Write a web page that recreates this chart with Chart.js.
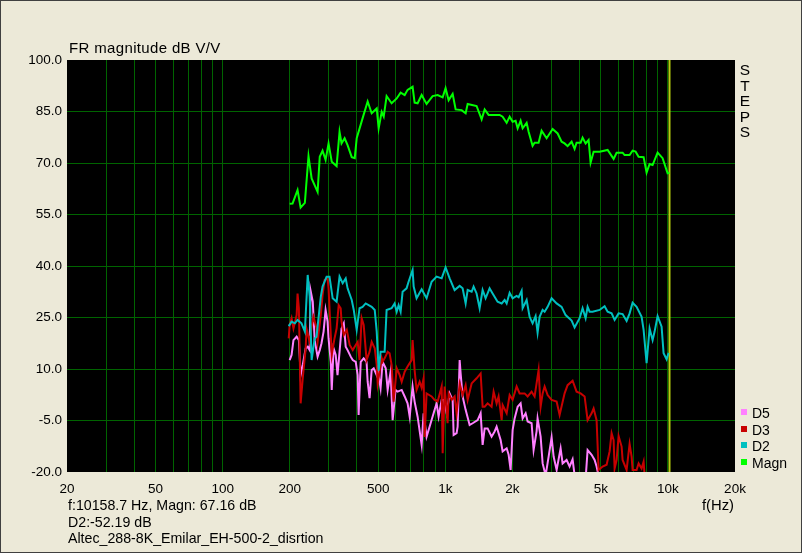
<!DOCTYPE html>
<html>
<head>
<meta charset="utf-8">
<title>FR magnitude</title>
<script src="https://cdn.jsdelivr.net/npm/chart.js@4.4.1/dist/chart.umd.min.js"></script>
<style>
html, body { margin: 0; padding: 0; }
body { background: #ece9d8; font-family: "Liberation Sans", Arial, sans-serif; font-size: 14px; color: #000; }
#stage { position: relative; width: 802px; height: 553px; overflow: hidden; }
#frame { position: absolute; left: 0; top: 0; width: 802px; height: 553px; box-sizing: border-box; border: 1px solid #404040; pointer-events: none; }
canvas { position: absolute; left: 0; top: 0; }
.txt { position: absolute; white-space: nowrap; }
#title { left: 69px; top: 40px; font-size: 15px; line-height: 15px; letter-spacing: 0.35px; }
#info { left: 68px; top: 497px; font-size: 14.2px; line-height: 16.7px; }
#unit { right: 68px; top: 497px; font-size: 14.8px; line-height: 16.7px; }
#steps { left: 738px; top: 62px; width: 14px; text-align: center; font-size: 15.5px; line-height: 15.5px; }
#legend { left: 741px; top: 405px; font-size: 14px; line-height: 16.5px; }
#legend .sw { display: inline-block; width: 6px; height: 6px; margin-right: 5px; vertical-align: 3px; }
</style>
</head>
<body>
<div id="stage">
  <canvas id="fr" width="802" height="553"></canvas>
  <div class="txt" id="title">FR magnitude dB V/V</div>
  <div class="txt" id="info">f:10158.7 Hz, Magn: 67.16 dB<br>D2:-52.19 dB<br>Altec_288-8K_Emilar_EH-500-2_disrtion</div>
  <div class="txt" id="unit">f(Hz)</div>
  <div class="txt" id="steps">S<br>T<br>E<br>P<br>S</div>
  <div class="txt" id="legend"></div>
  <div id="frame"></div>
</div>
<script>
// axis ticks
const gridFreqs = [20,30,40,50,60,70,80,90,100,200,300,400,500,600,700,800,900,1000,2000,3000,4000,5000,6000,7000,8000,9000,10000,20000];
const xTickValues = [20,50,100,200,500,1000,2000,5000,10000,20000];
const xTickLabels = ['20','50','100','200','500','1k','2k','5k','10k','20k'];
const cursorFreq = 10158.7;

// Magn (fundamental)
const magnFreq = [200,206,217,224,234,243,251,267,273,281,290,299,309,325,335,342,353,364,380,392,400,425,448,467,492,502,518,529,545,574,605,630,657,677,713,728,751,783,824,877,924,973,1003,1035,1079,1113,1184,1234,1260,1382,1456,1502,1565,1754,1809,1886,1945,2006,2069,2113,2179,2225,2319,2367,2466,2518,2624,2707,2851,3034,3195,3329,3434,3542,3692,3808,3887,4052,4136,4267,4401,4493,4635,4932,5357,5700,5879,6256,6386,6725,6937,7155,7381,7773,8017,8270,8531,8983,9460,9962,10159];
const magnDb = [58.1,58.2,62.1,57.0,58.4,72.0,65.5,61.6,71.8,73.6,70.9,75.7,70.4,69.1,79.1,75.7,77.2,75.2,71.7,71.4,77.2,83.0,87.9,84.5,85.9,80.1,84.9,83.5,89.5,87.4,88.8,90.5,89.8,91.3,92.2,87.6,87.4,89.8,87.2,89.5,89.8,89.1,91.8,88.3,90.1,85.6,85.4,84.5,87.2,86.6,82.7,85.6,84.0,84.0,83.5,81.7,83.5,82.0,82.3,80.1,82.3,80.1,81.7,79.1,75.0,75.9,75.9,79.4,77.2,79.9,78.6,76.2,75.7,74.9,76.2,74.1,75.9,75.9,77.4,75.7,76.7,70.1,73.3,73.3,73.8,71.2,73.0,73.0,72.3,72.3,73.6,73.3,71.8,71.7,67.2,69.7,69.4,73.0,71.4,67.0,67.16];

// D2
const d2Freq = [198,204,211,217,226,234,241,246,251,259,264,276,281,293,302,312,325,335,346,357,364,380,388,400,412,425,439,467,482,492,502,512,534,545,574,592,605,617,630,643,670,684,713,721,743,783,824,868,914,963,1003,1046,1101,1160,1196,1234,1260,1313,1340,1382,1426,1471,1517,1581,1631,1717,1791,1847,1886,1945,2006,2091,2135,2202,2225,2319,2391,2466,2544,2597,2652,2736,2793,2881,3002,3162,3329,3470,3692,3808,4010,4136,4267,4356,4447,4587,4932,5193,5357,5583,5759,6002,6256,6520,6725,6937,7229,7614,7773,8017,8270,8531,8708,8983,9363,9558,9859,10065];
const d2Db = [22.5,23.8,23.3,24.3,23.3,20.9,37.4,31.1,12.6,18.9,19.4,31.1,34.0,36.9,36.9,30.6,29.6,36.9,35.0,36.4,33.5,30.1,27.2,21.4,27.7,28.1,29.1,28.1,27.2,20.9,9.5,15.0,15.0,27.2,27.7,29.1,26.7,28.6,26.7,32.5,33.5,35.4,38.8,34.0,30.6,33.2,30.6,35.4,36.9,36.4,39.6,36.4,33.0,34.2,33.5,29.1,33.0,32.5,34.0,32.0,27.7,33.0,30.6,33.5,32.0,29.6,29.1,30.1,29.1,32.2,30.6,31.3,30.9,32.8,27.7,30.1,25.2,23.3,25.4,20.6,25.2,27.2,26.7,28.1,30.6,29.1,28.1,25.7,24.1,22.1,24.8,27.7,24.8,28.1,26.7,26.7,27.2,28.3,26.7,26.2,24.3,26.2,26.0,24.0,26.2,29.3,28.1,25.2,21.4,11.7,21.8,18.4,20.9,25.4,22.3,14.6,12.8,14.7];

// D3
const d3Freq = [198,200,204,208,215,217,220,224,229,236,238,246,251,256,264,267,276,281,287,296,299,306,309,318,325,332,339,342,350,361,372,384,396,404,412,421,430,443,457,467,482,492,497,518,523,534,551,562,574,586,605,624,637,657,677,706,713,728,743,767,783,799,808,824,868,895,924,963,973,993,1024,1035,1068,1101,1124,1160,1196,1234,1260,1313,1382,1441,1471,1502,1549,1614,1648,1700,1735,1791,1809,1886,1945,2006,2091,2157,2271,2343,2441,2518,2570,2624,2680,2736,2793,2881,3002,3162,3261,3434,3542,3730,3887,4052,4223,4356,4540,4635,4780,4880,5087,5302,5469,5583,5700,5759,5879,6002,6192,6256,6520,6725,6865,6937,7229,7381,7614,7773,7853];
const d3Db = [18.9,22.8,24.8,21.8,25.7,32.0,27.7,0.0,7.3,16.0,21.8,17.9,22.3,25.2,21.8,17.9,25.7,31.5,35.9,36.4,33.5,19.9,14.1,18.9,21.8,28.6,27.7,23.8,19.9,21.4,17.0,15.5,17.0,17.9,12.6,24.8,22.8,12.6,15.0,17.9,16.0,11.2,5.8,13.1,12.1,13.1,15.0,14.6,11.2,0.5,10.2,8.2,6.3,9.2,10.7,12.6,18.4,9.7,3.9,6.3,4.5,7.3,-9.8,2.9,2.0,1.0,0.5,4.9,-14.5,4.9,-5.8,2.9,1.0,2.0,-3.0,5.8,2.4,5.3,1.0,5.8,7.3,8.7,-1.0,-1.0,0.0,-1.0,3.4,0.0,2.0,-4.9,-0.5,-2.9,2.4,1.0,4.9,2.9,2.9,2.0,3.4,2.0,5.8,9.7,-1.0,2.9,4.9,2.4,1.0,0.5,-3.4,2.9,5.3,6.6,3.4,2.9,2.0,-4.9,-2.9,-1.5,-4.9,-19.4,-18.4,-17.9,-14.0,-8.7,-10.7,-19.0,-16.5,-9.5,-12.6,-16.5,-19.4,-11.8,-15.5,-19.4,-19.4,-17.5,-19.0,-17.0,-21.0];

// D5
const d5Freq = [200,204,208,215,220,224,229,236,241,246,248,254,259,267,273,278,284,290,296,299,306,309,315,322,328,335,342,350,357,364,376,384,396,404,408,417,430,443,448,457,467,477,492,497,512,523,540,551,568,580,598,611,637,657,677,692,713,728,751,783,799,824,850,886,914,933,963,983,1014,1046,1079,1090,1124,1136,1160,1172,1196,1234,1286,1327,1397,1441,1471,1502,1549,1614,1665,1700,1772,1809,1886,1925,1965,2006,2048,2113,2179,2225,2295,2343,2441,2492,2570,2597,2680,2736,2822,2911,3002,3065,3162,3295,3364,3505,3616,3730,3808,4010,4267,4356,4540,4683,4780,4880];
const d5Db = [12.6,14.1,18.4,19.4,18.4,8.2,11.2,16.0,16.5,15.5,33.0,29.6,18.4,13.6,15.5,17.5,20.9,27.2,23.8,18.9,12.1,3.9,16.0,14.1,8.2,15.0,21.8,23.3,16.5,15.5,13.6,12.6,12.1,8.2,-3.4,12.1,13.1,12.1,6.3,1.5,9.7,10.2,8.2,9.7,4.4,12.1,10.2,3.9,9.2,-4.9,3.9,3.4,3.9,2.0,0.0,-3.9,4.9,0.5,-3.9,-12.1,-2.9,-9.7,-6.8,-2.9,0.0,-3.9,1.0,1.0,-2.9,2.9,1.0,-9.2,-8.7,-6.8,12.6,8.7,2.0,-1.9,-6.3,-5.8,-4.9,-2.9,-12.1,-7.3,-7.3,-9.7,-8.2,-6.8,-10.7,-14.0,-13.1,-15.0,-19.4,-7.8,-4.4,-1.0,0.0,-4.4,-2.9,-5.3,-5.8,-13.6,-8.2,-4.4,-9.7,-17.5,-21.0,-15.5,-9.9,-15.5,-19.4,-13.1,-17.5,-16.5,-18.4,-16.3,-21.0,-24.0,-22.0,-13.6,-15.0,-16.5,-18.4,-21.0];

const series = [
    { name: 'D5', freq: d5Freq, db: d5Db, color: '#ff80ff' },
    { name: 'D3', freq: d3Freq, db: d3Db, color: '#c80000' },
    { name: 'D2', freq: d2Freq, db: d2Db, color: '#00c0c0' },
    { name: 'Magn', freq: magnFreq, db: magnDb, color: '#00ff00' }
];

const GRID = '#006400';
const tickFont = { family: '"Liberation Sans", Arial, sans-serif', size: 13.5 };

// black plotting field
const plotBg = {
    id: 'plotBg',
    beforeDraw(c) {
        const a = c.chartArea, ctx = c.ctx;
        ctx.save();
        ctx.fillStyle = '#000';
        ctx.fillRect(a.left, a.top, a.right - a.left, a.bottom - a.top);
        ctx.restore();
    }
};

// draw order: Magn first, D5 last (on top)
const datasets = series.slice().reverse().map(s => ({
    label: s.name,
    data: s.freq.map((f, i) => ({ x: f, y: s.db[i] })),
    borderColor: s.color,
    borderWidth: 2,
    pointRadius: 0,
    tension: 0,
    fill: false
}));
datasets.push({
    label: 'cursor',
    data: [{ x: cursorFreq, y: -20 }, { x: cursorFreq, y: 100 }],
    borderColor: '#b8d010',
    borderWidth: 2,
    pointRadius: 0
});

new Chart(document.getElementById('fr'), {
    type: 'line',
    data: { datasets },
    plugins: [plotBg],
    options: {
        responsive: false,
        animation: false,
        devicePixelRatio: 1,
        layout: { padding: { left: 0, top: 60, right: 67, bottom: 0 } },
        plugins: { legend: { display: false }, tooltip: { enabled: false } },
        scales: {
            x: {
                type: 'logarithmic',
                min: 20, max: 20000,
                afterFit: s => { s.height = 81; },
                afterBuildTicks: s => { s.ticks = gridFreqs.map(v => ({ value: v })); },
                border: { display: false },
                grid: {
                    color: ctx => (ctx.tick && (ctx.tick.value === 20 || ctx.tick.value === 20000)) ? 'rgba(0,0,0,0)' : GRID,
                    lineWidth: 1,
                    drawTicks: false
                },
                ticks: {
                    autoSkip: false,
                    maxRotation: 0,
                    padding: 9,
                    color: '#000',
                    font: tickFont,
                    callback: v => {
                        const i = xTickValues.indexOf(v);
                        return i >= 0 ? xTickLabels[i] : '';
                    }
                }
            },
            y: {
                min: -20, max: 100,
                afterFit: s => { s.width = 67; },
                border: { display: false },
                grid: {
                    color: ctx => (ctx.tick && (ctx.tick.value === -20 || ctx.tick.value === 100)) ? 'rgba(0,0,0,0)' : GRID,
                    lineWidth: 1,
                    drawTicks: false
                },
                ticks: {
                    stepSize: 15,
                    padding: 5,
                    color: '#000',
                    font: tickFont,
                    callback: v => v.toFixed(1)
                }
            }
        }
    }
});

// legend, top to bottom as in the original
document.getElementById('legend').innerHTML = series.map(s =>
    `<div><span class="sw" style="background:${s.color}"></span>${s.name}</div>`).join('');
</script>
</body>
</html>
